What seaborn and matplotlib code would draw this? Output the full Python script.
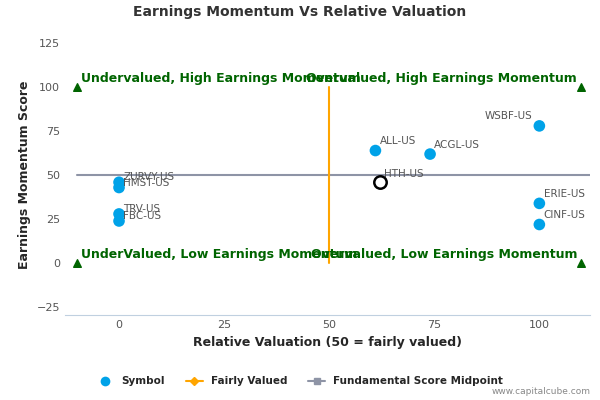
import matplotlib
matplotlib.use("Agg")
import matplotlib.pyplot as plt
import seaborn as sns
import pandas as pd
from matplotlib.lines import Line2D

symbols = ["ZURVY-US", "HMST-US", "TRV-US", "FBC-US", "ALL-US", "ACGL-US",
           "WSBF-US", "ERIE-US", "CINF-US"]
valuation = [0, 0, 0, 0, 61, 74, 100, 100, 100]
momentum = [46, 43, 28, 24, 64, 62, 78, 34, 22]
hl_symbol, hl_x, hl_y = "HTH-US", 62, 46
quad_x = [-10, 110, -10, 110]
quad_y = [100, 100, 0, 0]
quad_labels = ["Undervalued, High Earnings Momentum", "Overvalued, High Earnings Momentum",
               "UnderValued, Low Earnings Momentum", "Overvalued, Low Earnings Momentum"]

df = pd.DataFrame({"symbol": symbols, "x": valuation, "y": momentum})
sns.set_style("white")
fig = plt.figure(figsize=(6, 4), dpi=100)
ax = fig.add_axes([0.108, 0.212, 0.875, 0.7])
green = "#006400"

ax.plot([-10, 112], [50, 50], color="#8e94a6", lw=1.5, zorder=1)
ax.plot([50, 50], [0, 100], color="#ffa500", lw=1.5, zorder=1)
sns.scatterplot(data=df, x="x", y="y", ax=ax, color="#00a2e8", s=70,
                edgecolor="none", zorder=3, legend=False)
ax.scatter([hl_x], [hl_y], s=80, facecolor="white", edgecolor="black", lw=1.8, zorder=4)
ax.scatter(quad_x, quad_y, marker="^", color=green, s=30, zorder=3)

offs = {"ZURVY-US": (1, 0), "HMST-US": (1, 0), "TRV-US": (1, 0), "FBC-US": (1, 0),
        "ALL-US": (1, 2.5), "ACGL-US": (1, 2.5), "WSBF-US": (-13, 2.5), "ERIE-US": (1, 2.5),
        "CINF-US": (1, 2.5)}
for s, x, y in zip(symbols, valuation, momentum):
    dx, dy = offs[s]
    ax.text(x + dx, y + dy, s, fontsize=7.5, color="#555555", va="bottom")
ax.text(hl_x + 1, hl_y + 2, hl_symbol, fontsize=7.5, color="#555555", va="bottom")

ax.text(-9, 101, quad_labels[0], color=green, fontsize=9, fontweight="bold", va="bottom")
ax.text(109, 101, quad_labels[1], color=green, fontsize=9, fontweight="bold", va="bottom", ha="right")
ax.text(-9, 1, quad_labels[2], color=green, fontsize=9, fontweight="bold", va="bottom")
ax.text(109, 1, quad_labels[3], color=green, fontsize=9, fontweight="bold", va="bottom", ha="right")

ax.set_xlim(-12.9, 112)
ax.set_ylim(-29.5, 129.5)
ax.set_xticks([0, 25, 50, 75, 100])
ax.set_yticks([-25, 0, 25, 50, 75, 100, 125])
ax.tick_params(labelsize=8, colors="#555555", length=0)
ax.set_xlabel("Relative Valuation (50 = fairly valued)", fontsize=9, fontweight="bold")
ax.set_ylabel("Earnings Momentum Score", fontsize=9, fontweight="bold")
for sp in ["top", "right", "left"]:
    ax.spines[sp].set_visible(False)
ax.spines["bottom"].set_color("#c0d0e0")
fig.text(0.5, 0.96, "Earnings Momentum Vs Relative Valuation", ha="center",
         fontsize=10, color="#333333", fontweight="bold")

handles = [Line2D([], [], marker="o", color="none", markerfacecolor="#00a2e8", markeredgecolor="none", markersize=7),
           Line2D([], [], marker="D", color="#ffa500", markersize=4),
           Line2D([], [], marker="s", color="#8e94a6", markersize=5)]
fig.legend(handles, ["Symbol", "Fairly Valued", "Fundamental Score Midpoint"],
           loc="center", bbox_to_anchor=(0.5, 0.047), ncol=3, frameon=False,
           prop={"size": 7.5, "weight": "bold"}, handlelength=1.6, columnspacing=2)
fig.text(0.985, 0.015, "www.capitalcube.com", ha="right", fontsize=6.5, color="#888888")
fig.savefig("out.png", dpi=100)
